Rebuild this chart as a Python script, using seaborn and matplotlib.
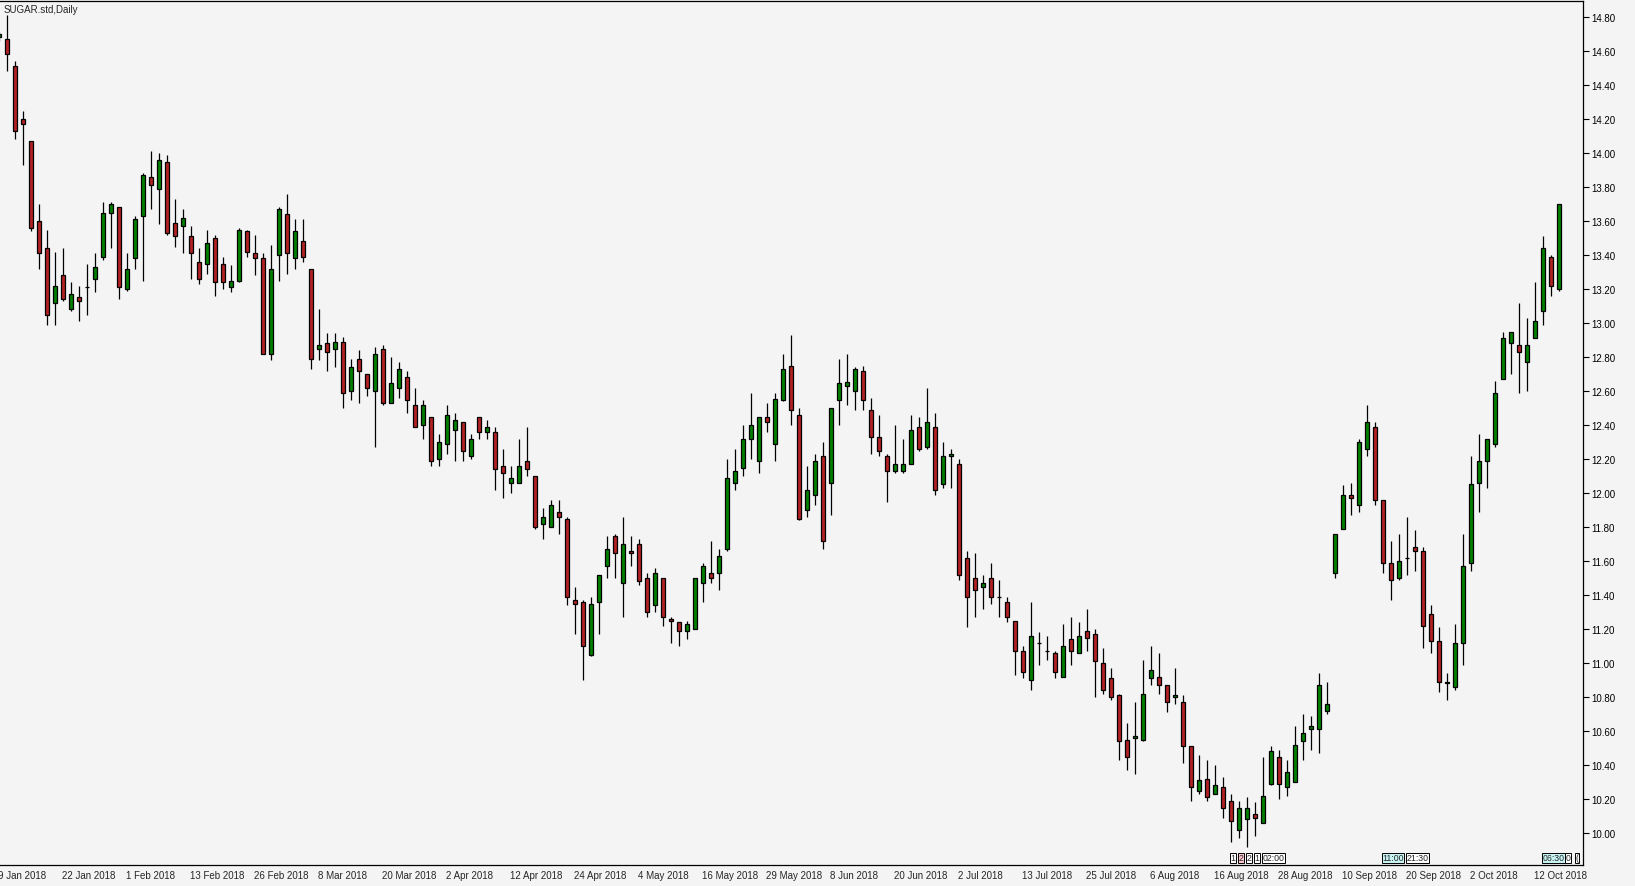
import numpy as np
import matplotlib
matplotlib.use("Agg")
import matplotlib.pyplot as plt
import matplotlib.transforms as mtrans
import seaborn as sns

# Data: daily OHLC, one entry per bar
opens = [14.68, 14.67, 14.51, 14.20, 14.07, 13.60, 13.44, 13.12, 13.28, 13.08,
         13.15, 13.21, 13.26, 13.39, 13.65, 13.68, 13.20, 13.38, 13.63, 13.86,
         13.79, 13.95, 13.59, 13.57, 13.51, 13.36, 13.35, 13.50, 13.35, 13.21,
         13.25, 13.54, 13.41, 13.38, 12.82, 13.40, 13.64, 13.38, 13.48, 13.32,
         12.85, 12.88, 12.85, 12.89, 12.60, 12.79, 12.70, 12.60, 12.85, 12.53,
         12.62, 12.68, 12.52, 12.40, 12.45, 12.20, 12.29, 12.37, 12.42, 12.22,
         12.45, 12.36, 12.36, 12.16, 12.06, 12.06, 12.19, 12.10, 11.82, 11.80,
         11.89, 11.85, 11.37, 11.36, 11.05, 11.36, 11.57, 11.75, 11.47, 11.66,
         11.70, 11.50, 11.34, 11.50, 11.26, 11.24, 11.19, 11.20, 11.47, 11.53,
         11.53, 11.67, 12.06, 12.15, 12.32, 12.19, 12.45, 12.29, 12.55, 12.75,
         12.46, 11.90, 11.99, 12.22, 12.06, 12.55, 12.63, 12.60, 12.72, 12.49,
         12.33, 12.22, 12.13, 12.13, 12.17, 12.39, 12.27, 12.39, 12.05, 12.22,
         12.17, 11.62, 11.50, 11.45, 11.50, 11.39, 11.36, 11.25, 11.07, 10.90,
         11.12, 11.07, 11.06, 10.92, 11.14, 11.06, 11.19, 11.17, 11.00, 10.91,
         10.81, 10.55, 10.56, 10.55, 10.91, 10.92, 10.87, 10.80, 10.77, 10.51,
         10.25, 10.32, 10.23, 10.27, 10.19, 10.02, 10.08, 10.11, 10.06, 10.29,
         10.45, 10.27, 10.30, 10.54, 10.61, 10.61, 10.72, 11.53, 11.79, 11.99,
         11.93, 12.26, 12.39, 11.96, 11.59, 11.50, 11.62, 11.68, 11.66, 11.29,
         11.13, 10.88, 10.86, 11.12, 11.59, 12.06, 12.19, 12.29, 12.67, 12.88,
         12.87, 12.77, 12.91, 13.07, 13.39, 13.20]
highs = [14.71, 14.81, 14.54, 14.25, 14.07, 13.70, 13.55, 13.42, 13.44, 13.24,
         13.22, 13.35, 13.41, 13.71, 13.71, 13.68, 13.41, 13.63, 13.88, 14.01,
         14.00, 13.99, 13.73, 13.67, 13.57, 13.44, 13.55, 13.52, 13.39, 13.34,
         13.56, 13.55, 13.52, 13.41, 13.46, 13.68, 13.76, 13.61, 13.61, 13.32,
         13.08, 12.94, 12.94, 12.92, 12.79, 12.84, 12.70, 12.86, 12.87, 12.80,
         12.77, 12.72, 12.62, 12.55, 12.45, 12.35, 12.52, 12.47, 12.42, 12.35,
         12.45, 12.43, 12.39, 12.26, 12.16, 12.32, 12.39, 12.10, 11.91, 11.96,
         11.96, 11.86, 11.45, 11.37, 11.39, 11.52, 11.75, 11.76, 11.86, 11.75,
         11.73, 11.53, 11.56, 11.50, 11.27, 11.24, 11.25, 11.50, 11.59, 11.72,
         11.67, 12.20, 12.26, 12.40, 12.59, 12.45, 12.53, 12.59, 12.82, 12.93,
         12.50, 12.16, 12.23, 12.30, 12.50, 12.79, 12.82, 12.74, 12.75, 12.56,
         12.46, 12.23, 12.40, 12.32, 12.46, 12.45, 12.62, 12.47, 12.30, 12.26,
         12.20, 11.66, 11.65, 11.52, 11.59, 11.49, 11.39, 11.25, 11.10, 11.36,
         11.18, 11.16, 11.07, 11.23, 11.27, 11.24, 11.32, 11.20, 11.09, 10.97,
         10.82, 10.65, 10.77, 11.02, 11.10, 11.06, 10.87, 10.97, 10.81, 10.51,
         10.46, 10.43, 10.40, 10.33, 10.23, 10.19, 10.21, 10.18, 10.45, 10.51,
         10.49, 10.43, 10.63, 10.70, 10.69, 10.94, 10.89, 11.76, 12.05, 12.06,
         12.32, 12.52, 12.42, 11.96, 11.72, 11.76, 11.86, 11.78, 11.68, 11.34,
         11.21, 10.94, 11.23, 11.76, 12.22, 12.35, 12.32, 12.66, 12.95, 12.95,
         13.12, 13.03, 13.24, 13.51, 13.40, 13.70]
lows = [14.66, 14.48, 14.08, 13.93, 13.54, 13.32, 12.99, 12.99, 13.13, 13.07,
        13.01, 13.05, 13.18, 13.37, 13.44, 13.14, 13.19, 13.32, 13.25, 13.67,
        13.58, 13.52, 13.45, 13.41, 13.26, 13.23, 13.29, 13.16, 13.20, 13.18,
        13.24, 13.39, 13.28, 12.82, 12.78, 13.25, 13.29, 13.32, 13.36, 12.73,
        12.78, 12.72, 12.74, 12.50, 12.55, 12.53, 12.57, 12.27, 12.52, 12.53,
        12.56, 12.47, 12.39, 12.32, 12.16, 12.16, 12.23, 12.19, 12.19, 12.20,
        12.32, 12.32, 12.02, 11.97, 12.00, 12.06, 12.10, 11.79, 11.73, 11.80,
        11.76, 11.34, 11.17, 10.90, 11.04, 11.17, 11.50, 11.50, 11.27, 11.57,
        11.46, 11.27, 11.30, 11.22, 11.12, 11.10, 11.14, 11.20, 11.36, 11.47,
        11.43, 11.66, 12.02, 12.10, 12.20, 12.12, 12.36, 12.19, 12.54, 12.40,
        11.84, 11.86, 11.93, 11.67, 11.87, 12.40, 12.52, 12.49, 12.49, 12.23,
        12.22, 11.95, 12.12, 12.12, 12.17, 12.25, 12.26, 11.99, 12.03, 12.03,
        11.49, 11.21, 11.27, 11.32, 11.35, 11.27, 11.24, 10.93, 10.91, 10.84,
        10.99, 11.02, 10.91, 10.92, 10.99, 11.06, 11.07, 10.80, 10.82, 10.78,
        10.43, 10.37, 10.35, 10.54, 10.87, 10.82, 10.71, 10.76, 10.41, 10.19,
        10.23, 10.19, 10.23, 10.09, 9.95, 9.97, 9.92, 9.98, 10.06, 10.28,
        10.20, 10.22, 10.30, 10.43, 10.49, 10.47, 10.70, 11.50, 11.79, 11.87,
        11.89, 12.22, 11.93, 11.53, 11.37, 11.49, 11.52, 11.54, 11.09, 11.06,
        10.83, 10.78, 10.84, 10.99, 11.54, 11.89, 12.03, 12.27, 12.67, 12.70,
        12.59, 12.60, 12.91, 12.99, 13.16, 13.19]
closes = [14.70, 14.58, 14.13, 14.17, 13.56, 13.41, 13.05, 13.22, 13.14, 13.17,
          13.13, 13.21, 13.33, 13.65, 13.70, 13.21, 13.32, 13.61, 13.87, 13.81,
          13.96, 13.53, 13.51, 13.62, 13.41, 13.26, 13.47, 13.24, 13.24, 13.25,
          13.55, 13.42, 13.38, 12.82, 13.32, 13.67, 13.41, 13.54, 13.39, 12.79,
          12.87, 12.83, 12.89, 12.59, 12.74, 12.72, 12.62, 12.82, 12.53, 12.65,
          12.73, 12.55, 12.39, 12.52, 12.19, 12.30, 12.46, 12.43, 12.25, 12.32,
          12.36, 12.39, 12.14, 12.12, 12.09, 12.16, 12.14, 11.80, 11.86, 11.93,
          11.86, 11.39, 11.35, 11.10, 11.35, 11.52, 11.67, 11.65, 11.70, 11.65,
          11.48, 11.30, 11.53, 11.27, 11.25, 11.19, 11.23, 11.50, 11.57, 11.50,
          11.63, 12.09, 12.13, 12.32, 12.40, 12.45, 12.42, 12.55, 12.73, 12.49,
          11.85, 12.02, 12.19, 11.72, 12.50, 12.65, 12.65, 12.73, 12.55, 12.33,
          12.25, 12.13, 12.17, 12.17, 12.37, 12.26, 12.42, 12.02, 12.22, 12.23,
          11.52, 11.39, 11.43, 11.47, 11.39, 11.39, 11.27, 11.07, 10.95, 11.16,
          11.12, 11.07, 10.95, 11.10, 11.07, 11.16, 11.15, 11.01, 10.84, 10.80,
          10.54, 10.45, 10.57, 10.82, 10.96, 10.87, 10.77, 10.81, 10.51, 10.27,
          10.31, 10.21, 10.28, 10.15, 10.07, 10.15, 10.15, 10.09, 10.22, 10.48,
          10.29, 10.36, 10.52, 10.59, 10.63, 10.87, 10.76, 11.76, 11.99, 11.97,
          12.30, 12.42, 11.96, 11.59, 11.49, 11.60, 11.62, 11.66, 11.22, 11.13,
          10.89, 10.89, 11.12, 11.57, 12.05, 12.19, 12.32, 12.59, 12.91, 12.95,
          12.83, 12.87, 13.01, 13.44, 13.22, 13.70]

# date labels, one every 8 bars
date_labels = ['9 Jan 2018', '22 Jan 2018', '1 Feb 2018', '13 Feb 2018', '26 Feb 2018',
               '8 Mar 2018', '20 Mar 2018', '2 Apr 2018', '12 Apr 2018', '24 Apr 2018',
               '4 May 2018', '16 May 2018', '29 May 2018', '8 Jun 2018', '20 Jun 2018',
               '2 Jul 2018', '13 Jul 2018', '25 Jul 2018', '6 Aug 2018', '16 Aug 2018',
               '28 Aug 2018', '10 Sep 2018', '20 Sep 2018', '2 Oct 2018', '12 Oct 2018']
date_bars = [8 * i for i in range(len(date_labels))]

# small boxed time markers on the axis
marker_bars = [154, 155, 156, 157, 158, 173, 176, 193, 195.9, 197.2]
marker_text = ['1', '2', '2', '1', '02:00', '11:00', '21:30', '06:30', '0', '(']
marker_bg = ['white', '#ffc8d0', 'white', 'white', 'white', '#c8f4f4', 'white', '#c8f4f4', 'white', 'white']

price_ticks = [10.0 + 0.2 * i for i in range(25)]

sns.set_style('white')
plt.rcParams['font.family'] = ['Liberation Sans', 'DejaVu Sans']

bg = '#f4f4f4'
fig = plt.figure(figsize=(16.35, 8.87), dpi=100, facecolor=bg)
ax = fig.add_axes([0, 1 - 866 / 887, 1583 / 1635, 864 / 887])
ax.set_facecolor(bg)

x = np.arange(len(opens))
o = np.array(opens)
c = np.array(closes)
colors = ['#008000' if cc > oo else '#b22222' for oo, cc in zip(o, c)]

# wicks then bodies
ax.vlines(x, lows, highs, color='black', linewidth=0.9, zorder=2)
ax.bar(x, np.abs(c - o), bottom=np.minimum(o, c), width=0.55, color=colors,
       edgecolor='black', linewidth=0.9, zorder=3)

ax.set_xlim(0.125, 198.0)
ax.set_ylim(14.8 - 848 / 170, 14.8 + 16 / 170)

for side in ['top', 'right', 'bottom']:
    ax.spines[side].set_color('black')
    ax.spines[side].set_linewidth(0.9)
ax.spines['left'].set_visible(False)

ax.yaxis.tick_right()
ax.set_yticks(price_ticks)
ax.set_yticklabels(['%.2f' % p for p in price_ticks])
ax.tick_params(axis='y', direction='out', length=4, width=0.8, pad=2,
               labelsize=7, colors='black')

ax.set_xticks(date_bars[1:])
ax.set_xticklabels([])
ax.tick_params(axis='x', direction='out', length=4, width=0.8, colors='black')

trans = mtrans.blended_transform_factory(ax.transData, ax.transAxes)
for b, lab in zip(date_bars, date_labels):
    ax.text(b - 0.1, -0.006, lab, transform=trans, ha='left', va='top',
            fontsize=7, clip_on=False)

for b, t, fc in zip(marker_bars, marker_text, marker_bg):
    ax.text(b - 0.1, 0.003, t, transform=trans, ha='left', va='bottom', fontsize=6.3,
            bbox=dict(boxstyle='square,pad=0.08', fc=fc, ec='black', lw=0.7),
            zorder=5, clip_on=False)

ax.text(0.002, 0.997, 'SUGAR.std,Daily', transform=ax.transAxes, ha='left', va='top',
        fontsize=7)

fig.savefig('out.png', dpi=100, facecolor=bg)
